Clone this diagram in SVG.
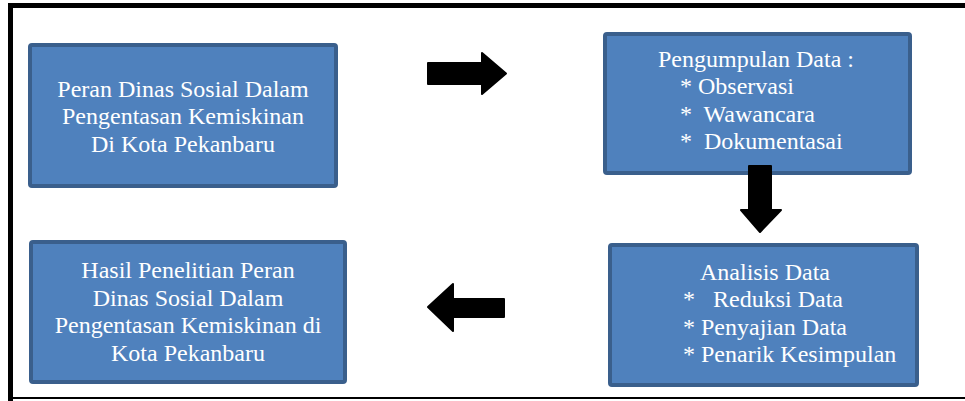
<svg xmlns="http://www.w3.org/2000/svg" width="965" height="401" viewBox="0 0 965 401">
<style>
.box{fill:#4F81BD;stroke:#3A5F8C;stroke-width:4}
.t{font-family:"Liberation Serif","Times New Roman",serif;font-size:24px;fill:#FFFFFF;white-space:pre}
.c{text-anchor:middle}
.arrow{fill:#000000;stroke:#000000;stroke-width:2;stroke-linejoin:round}
</style>
<rect width="965" height="401" fill="#FFFFFF"/>
<g id="frame" fill="#000000">
<rect x="8" y="3" width="957" height="5"/>
<rect x="8" y="3" width="5" height="398"/>
<rect x="8" y="397" width="957" height="2"/>
</g>
<g id="node-peran">
<rect class="box" x="30" y="45" width="306" height="141" rx="2"/>
<text class="t c" x="183" y="97">Peran Dinas Sosial Dalam</text>
<text class="t c" x="183" y="124">Pengentasan Kemiskinan</text>
<text class="t c" x="183" y="152">Di Kota Pekanbaru</text>
</g>
<g id="node-pengumpulan">
<rect class="box" x="605" y="34" width="305" height="139" rx="2"/>
<text class="t" x="658" y="67">Pengumpulan Data :</text>
<text class="t" x="680" y="94" xml:space="preserve">* Observasi</text>
<text class="t" x="680" y="122" xml:space="preserve">*  Wawancara</text>
<text class="t" x="680" y="149" xml:space="preserve">*  Dokumentasai</text>
</g>
<g id="node-analisis">
<rect class="box" x="610" y="245" width="307" height="140" rx="2"/>
<text class="t" x="700" y="280">Analisis Data</text>
<text class="t" x="683" y="307" xml:space="preserve">*   Reduksi Data</text>
<text class="t" x="683" y="335" xml:space="preserve">* Penyajian Data</text>
<text class="t" x="683" y="362" xml:space="preserve">* Penarik Kesimpulan</text>
</g>
<g id="node-hasil">
<rect class="box" x="31" y="242" width="314" height="140" rx="2"/>
<text class="t c" x="188" y="278">Hasil Penelitian Peran</text>
<text class="t c" x="188" y="306">Dinas Sosial Dalam</text>
<text class="t c" x="188" y="333">Pengentasan Kemiskinan di</text>
<text class="t c" x="188" y="361">Kota Pekanbaru</text>
</g>
<g id="connectors">
<polygon class="arrow" points="428,63 482,63 482,53 506,73.5 482,94 482,84 428,84"/>
<polygon class="arrow" points="749,166 771,166 771,210 781,210 760,232 741,210 749,210"/>
<polygon class="arrow" points="504,299 453,299 453,284 428,307 453,331 453,317 504,317"/>
</g>
</svg>
